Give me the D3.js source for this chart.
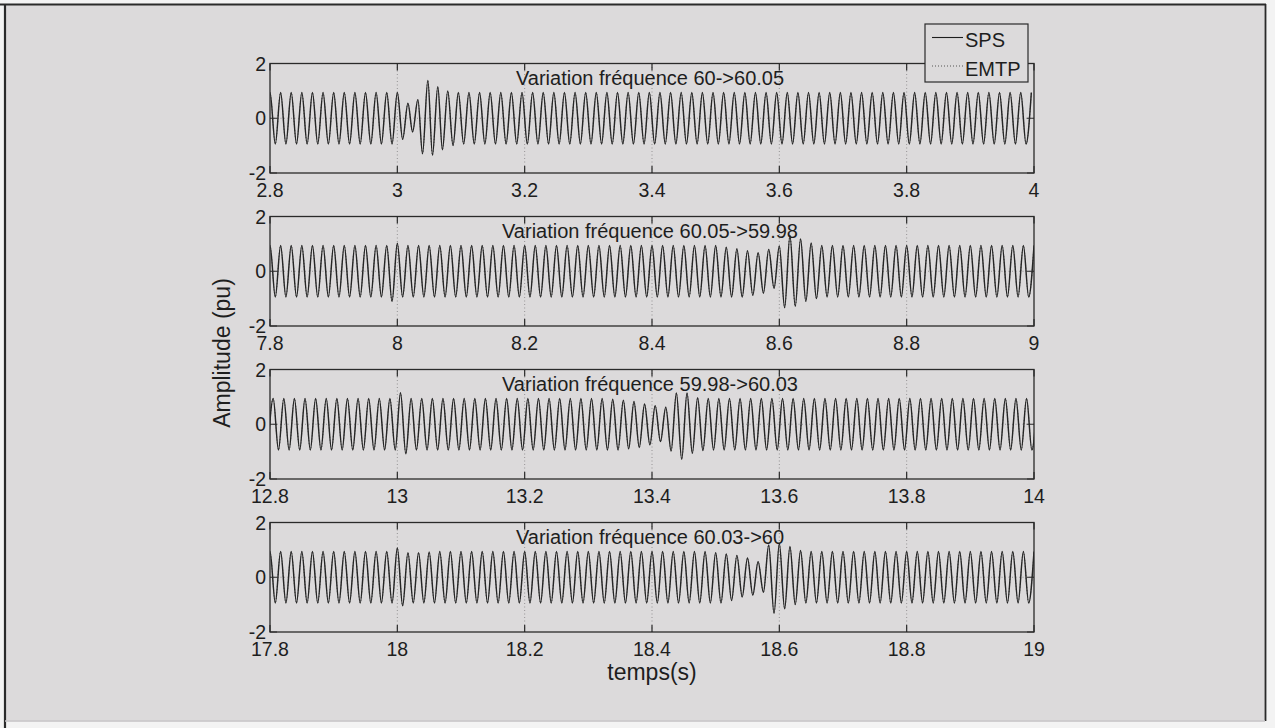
<!DOCTYPE html>
<html>
<head>
<meta charset="utf-8">
<script src="https://cdn.jsdelivr.net/npm/d3@7"></script>
<style>
  html, body { margin: 0; padding: 0; background: #f3f3f3; }
  svg { display: block; font-family: "Liberation Sans", Arial, sans-serif; }
</style>
</head>
<body>
<svg id="chart" width="1275" height="728"></svg>
<script>
'use strict'

// start time of each panel (s), each one spans 1.2 s
const starts = [2.8, 7.8, 12.8, 17.8];
const titles = [
    "Variation fréquence 60->60.05",
    "Variation fréquence 60.05->59.98",
    "Variation fréquence 59.98->60.03",
    "Variation fréquence 60.03->60"
];
const xTickLabels = [
    ["2.8", "3", "3.2", "3.4", "3.6", "3.8", "4"],
    ["7.8", "8", "8.2", "8.4", "8.6", "8.8", "9"],
    ["12.8", "13", "13.2", "13.4", "13.6", "13.8", "14"],
    ["17.8", "18", "18.2", "18.4", "18.6", "18.8", "19"]
];
const yTicks = [-2, 0, 2];
const seriesNames = ["SPS", "EMTP"];

// nominal frequency, used to place the extrema in time
const f0 = 60;
// phase (in cycles) of the peaks, before and after the disturbance
const phaseBefore = [0, 0, 0.3, 0];
const phaseAfter = [-0.25, 0, 0.3, 0];
const eventCycle = [13, 47, 36, 45];

// peak value of every cycle, 12 cycles per 0.2 s
const peaks1 = [
    0.94, 0.94, 0.94, 0.94, 0.94, 0.94, 0.94, 0.94, 0.94, 0.94, 0.94, 0.94,
    0.94, 0.55, 0.68, 1.38, 1.15, 1.00, 0.94, 0.94, 0.94, 0.94, 0.94, 0.94,
    0.94, 0.94, 0.94, 0.94, 0.94, 0.94, 0.94, 0.94, 0.94, 0.94, 0.94, 0.94,
    0.94, 0.94, 0.94, 0.94, 0.94, 0.94, 0.94, 0.94, 0.94, 0.94, 0.94, 0.94,
    0.94, 0.94, 0.94, 0.94, 0.94, 0.94, 0.94, 0.94, 0.94, 0.94, 0.94, 0.94,
    0.94, 0.94, 0.94, 0.94, 0.94, 0.94, 0.94, 0.94, 0.94, 0.94, 0.94, 0.94,
    0.94
];
// trough value preceding each peak
const troughs1 = [
    -0.94, -0.94, -0.94, -0.94, -0.94, -0.94, -0.94, -0.94, -0.94, -0.94, -0.94, -0.94,
    -0.94, -0.77, -0.50, -1.30, -1.35, -1.15, -1.00, -0.94, -0.94, -0.94, -0.94, -0.94,
    -0.94, -0.94, -0.94, -0.94, -0.94, -0.94, -0.94, -0.94, -0.94, -0.94, -0.94, -0.94,
    -0.94, -0.94, -0.94, -0.94, -0.94, -0.94, -0.94, -0.94, -0.94, -0.94, -0.94, -0.94,
    -0.94, -0.94, -0.94, -0.94, -0.94, -0.94, -0.94, -0.94, -0.94, -0.94, -0.94, -0.94,
    -0.94, -0.94, -0.94, -0.94, -0.94, -0.94, -0.94, -0.94, -0.94, -0.94, -0.94, -0.94,
    -0.94
];
const peaks2 = [
    0.94, 0.94, 0.94, 0.94, 0.94, 0.94, 0.94, 0.94, 0.94, 0.94, 0.94, 0.94,
    1.02, 0.94, 0.94, 0.94, 0.94, 0.94, 0.94, 0.94, 0.94, 0.94, 0.94, 0.94,
    0.94, 0.94, 0.94, 0.94, 0.94, 0.94, 0.94, 0.94, 0.94, 0.94, 0.94, 0.94,
    0.94, 0.94, 0.94, 0.94, 0.94, 0.94, 0.94, 0.88, 0.82, 0.75, 0.68, 0.80,
    0.92, 1.30, 1.18, 1.03, 0.94, 0.94, 0.94, 0.94, 0.94, 0.94, 0.94, 0.94,
    0.94, 0.94, 0.94, 0.94, 0.94, 0.94, 0.94, 0.94, 0.94, 0.94, 0.94, 0.94,
    0.94
];
const troughs2 = [
    -0.94, -0.94, -0.94, -0.94, -0.94, -0.94, -0.94, -0.94, -0.94, -0.94, -0.94, -0.94,
    -1.10, -0.94, -0.94, -0.94, -0.94, -0.94, -0.94, -0.94, -0.94, -0.94, -0.94, -0.94,
    -0.94, -0.94, -0.94, -0.94, -0.94, -0.94, -0.94, -0.94, -0.94, -0.94, -0.94, -0.94,
    -0.94, -0.94, -0.94, -0.94, -0.94, -0.94, -0.94, -0.94, -0.94, -0.94, -0.88, -0.80,
    -0.62, -1.33, -1.28, -1.10, -1.00, -0.94, -0.94, -0.94, -0.94, -0.94, -0.94, -0.94,
    -0.94, -0.94, -0.94, -0.94, -0.94, -0.94, -0.94, -0.94, -0.94, -0.94, -0.94, -0.94,
    -0.94
];
const peaks3 = [
    0.94, 0.94, 0.94, 0.94, 0.94, 0.94, 0.94, 0.94, 0.94, 0.94, 0.94, 0.94,
    1.15, 0.94, 0.94, 0.94, 0.94, 0.94, 0.94, 0.94, 0.94, 0.94, 0.94, 0.94,
    0.94, 0.94, 0.94, 0.94, 0.94, 0.94, 0.94, 0.94, 0.91, 0.88, 0.83, 0.74,
    0.68, 0.62, 1.14, 1.14, 0.97, 0.94, 0.94, 0.94, 0.94, 0.94, 0.94, 0.94,
    0.94, 0.94, 0.94, 0.94, 0.94, 0.94, 0.94, 0.94, 0.94, 0.94, 0.94, 0.94,
    0.94, 0.94, 0.94, 0.94, 0.94, 0.94, 0.94, 0.94, 0.94, 0.94, 0.94, 0.94,
    0.94
];
const troughs3 = [
    -0.94, -0.94, -0.94, -0.94, -0.94, -0.94, -0.94, -0.94, -0.94, -0.94, -0.94, -0.94,
    -0.94, -1.08, -0.94, -0.94, -0.94, -0.94, -0.94, -0.94, -0.94, -0.94, -0.94, -0.94,
    -0.94, -0.94, -0.94, -0.94, -0.94, -0.94, -0.94, -0.94, -0.94, -0.94, -0.90, -0.85,
    -0.75, -0.63, -0.98, -1.28, -1.06, -0.96, -0.94, -0.94, -0.94, -0.94, -0.94, -0.94,
    -0.94, -0.94, -0.94, -0.94, -0.94, -0.94, -0.94, -0.94, -0.94, -0.94, -0.94, -0.94,
    -0.94, -0.94, -0.94, -0.94, -0.94, -0.94, -0.94, -0.94, -0.94, -0.94, -0.94, -0.94,
    -0.94
];
const peaks4 = [
    0.94, 0.94, 0.94, 0.94, 0.94, 0.94, 0.94, 0.94, 0.94, 0.94, 0.94, 0.94,
    1.07, 0.90, 0.90, 0.92, 0.94, 0.94, 0.94, 0.94, 0.94, 0.94, 0.94, 0.94,
    0.94, 0.94, 0.94, 0.94, 0.94, 0.94, 0.94, 0.94, 0.94, 0.94, 0.94, 0.94,
    0.94, 0.94, 0.94, 0.94, 0.94, 0.94, 0.90, 0.85, 0.80, 0.70, 0.57, 1.18,
    1.23, 1.12, 0.98, 0.94, 0.94, 0.94, 0.94, 0.94, 0.94, 0.94, 0.94, 0.94,
    0.94, 0.94, 0.94, 0.94, 0.94, 0.94, 0.94, 0.94, 0.94, 0.94, 0.94, 0.94,
    0.94
];
const troughs4 = [
    -0.94, -0.94, -0.94, -0.94, -0.94, -0.94, -0.94, -0.94, -0.94, -0.94, -0.94, -0.94,
    -0.94, -1.04, -0.94, -0.94, -0.94, -0.94, -0.94, -0.94, -0.94, -0.94, -0.94, -0.94,
    -0.94, -0.94, -0.94, -0.94, -0.94, -0.94, -0.94, -0.94, -0.94, -0.94, -0.94, -0.94,
    -0.94, -0.94, -0.94, -0.94, -0.94, -0.94, -0.94, -0.94, -0.85, -0.72, -0.65, -0.55,
    -1.32, -1.15, -1.00, -0.94, -0.94, -0.94, -0.94, -0.94, -0.94, -0.94, -0.94, -0.94,
    -0.94, -0.94, -0.94, -0.94, -0.94, -0.94, -0.94, -0.94, -0.94, -0.94, -0.94, -0.94,
    -0.94
];
const spsPeaks = [peaks1, peaks2, peaks3, peaks4];
const spsTroughs = [troughs1, troughs2, troughs3, troughs4];
// EMTP lies on top of SPS in the picture
const emtpPeaks = spsPeaks;
const emtpTroughs = spsTroughs;

const bg = "#dcdadb", ink = "#1e1e1e";
const svg = d3.select("#chart");

svg.append("rect").attr("x", 0).attr("y", 0).attr("width", 1275).attr("height", 728).attr("fill", "#f3f3f3");
svg.append("rect").attr("x", 5).attr("y", 4.5).attr("width", 1260).attr("height", 716)
    .attr("fill", bg).attr("stroke", "none");
// scanned frame
svg.append("line").attr("x1", 0).attr("x2", 1266).attr("y1", 4.5).attr("y2", 4.5)
    .attr("stroke", "#2a2a2a").attr("stroke-width", 2);
svg.append("line").attr("x1", 5).attr("x2", 5).attr("y1", 4).attr("y2", 728)
    .attr("stroke", "#2a2a2a").attr("stroke-width", 2.2);
svg.append("line").attr("x1", 1265.5).attr("x2", 1265.5).attr("y1", 4).attr("y2", 721)
    .attr("stroke", "#2a2a2a").attr("stroke-width", 1.8);
svg.append("line").attr("x1", 5).attr("x2", 1265).attr("y1", 721).attr("y2", 721)
    .attr("stroke", "#c4c2c4").attr("stroke-width", 1.5);

const left = 270, right = 1034, panelH = 109.5, panelGap = 153, firstTop = 63.5;

const defs = svg.append("defs");

function extrema(p, peaks, troughs) {
    const pts = [];
    for (let k = 0; k < peaks.length; k++) {
        const r = Math.max(0, Math.min(1, (k - eventCycle[p]) / 4));
        const ph = phaseBefore[p] + (phaseAfter[p] - phaseBefore[p]) * r;
        pts.push({ t: starts[p] + (k - 0.5 + ph) / f0, v: troughs[k] });
        pts.push({ t: starts[p] + (k + ph) / f0, v: peaks[k] });
    }
    return pts;
}

starts.forEach((t0, p) => {
    const top = firstTop + p * panelGap;
    const x = d3.scaleLinear().domain([t0, t0 + 1.2]).range([left, right]);
    const y = d3.scaleLinear().domain([-2, 2]).range([top + panelH, top]);
    const tickVals = xTickLabels[p].map(Number);

    const g = svg.append("g");

    defs.append("clipPath").attr("id", "clip" + p)
        .append("rect").attr("x", left).attr("y", top).attr("width", right - left).attr("height", panelH);

    // grid
    g.selectAll(".gx").data(tickVals.slice(1, -1)).enter().append("line")
        .attr("x1", d => x(d)).attr("x2", d => x(d)).attr("y1", top).attr("y2", top + panelH)
        .attr("stroke", "#8c8a8c").attr("stroke-width", 0.9).attr("stroke-dasharray", "1,2.5");
    g.append("line").attr("x1", left).attr("x2", right).attr("y1", y(0)).attr("y2", y(0))
        .attr("stroke", "#8c8a8c").attr("stroke-width", 0.9).attr("stroke-dasharray", "1,2.5");

    const line = d3.line().x(d => x(d.t)).y(d => y(d.v)).curve(d3.curveMonotoneX);

    g.append("path").datum(extrema(p, emtpPeaks[p], emtpTroughs[p]))
        .attr("clip-path", `url(#clip${p})`)
        .attr("d", line).attr("fill", "none").attr("stroke", "#555")
        .attr("stroke-width", 1).attr("stroke-dasharray", "1,2");
    g.append("path").datum(extrema(p, spsPeaks[p], spsTroughs[p]))
        .attr("clip-path", `url(#clip${p})`)
        .attr("d", line).attr("fill", "none").attr("stroke", "#262626")
        .attr("stroke-width", 1.45).attr("stroke-linejoin", "round");

    // box
    g.append("rect").attr("x", left).attr("y", top).attr("width", right - left).attr("height", panelH)
        .attr("fill", "none").attr("stroke", "#2a2a2a").attr("stroke-width", 1.3);

    // inward ticks
    const tl = 7;
    g.selectAll(".tb").data(tickVals).enter().append("path")
        .attr("d", d => `M${x(d)},${top + panelH}v${-tl}M${x(d)},${top}v${tl}`)
        .attr("stroke", "#2a2a2a").attr("stroke-width", 1.2);
    g.selectAll(".tl").data(yTicks).enter().append("path")
        .attr("d", d => `M${left},${y(d)}h${tl}M${right},${y(d)}h${-tl}`)
        .attr("stroke", "#2a2a2a").attr("stroke-width", 1.2);

    g.selectAll(".xl").data(xTickLabels[p]).enter().append("text")
        .attr("x", (d, i) => x(tickVals[i])).attr("y", top + panelH + 23.5)
        .attr("text-anchor", "middle").attr("font-size", 19.5).attr("fill", ink)
        .text(d => d);
    g.selectAll(".yl").data(yTicks).enter().append("text")
        .attr("x", left - 4).attr("y", d => y(d) + 7)
        .attr("text-anchor", "end").attr("font-size", 19.5).attr("fill", ink)
        .text(d => d);

    g.append("text").attr("x", (left + right) / 2 - 2).attr("y", top + 21.5)
        .attr("text-anchor", "middle").attr("font-size", 20).attr("fill", ink)
        .text(titles[p]);
});

// axis labels
svg.append("text").attr("transform", "translate(230,353) rotate(-90)")
    .attr("text-anchor", "middle").attr("font-size", 23).attr("fill", ink)
    .text("Amplitude (pu)");
svg.append("text").attr("x", (left + right) / 2).attr("y", 680)
    .attr("text-anchor", "middle").attr("font-size", 23).attr("fill", ink)
    .text("temps(s)");

// legend
const lg = svg.append("g");
lg.append("rect").attr("x", 925).attr("y", 24).attr("width", 103).attr("height", 58)
    .attr("fill", bg).attr("stroke", "#2a2a2a").attr("stroke-width", 1.2);
const legRows = [
    { y: 37.5, dash: null, color: ink },
    { y: 66, dash: "1,2", color: "#555" }
];
lg.selectAll(".ll").data(seriesNames).enter().append("line")
    .attr("x1", 932).attr("x2", 963)
    .attr("y1", (d, i) => legRows[i].y).attr("y2", (d, i) => legRows[i].y)
    .attr("stroke", (d, i) => legRows[i].color).attr("stroke-width", 1.1)
    .attr("stroke-dasharray", (d, i) => legRows[i].dash);
lg.selectAll(".lt").data(seriesNames).enter().append("text")
    .attr("x", 965).attr("y", (d, i) => legRows[i].y + 9.5)
    .attr("font-size", 20).attr("fill", ink)
    .text(d => d);
</script>
</body>
</html>
